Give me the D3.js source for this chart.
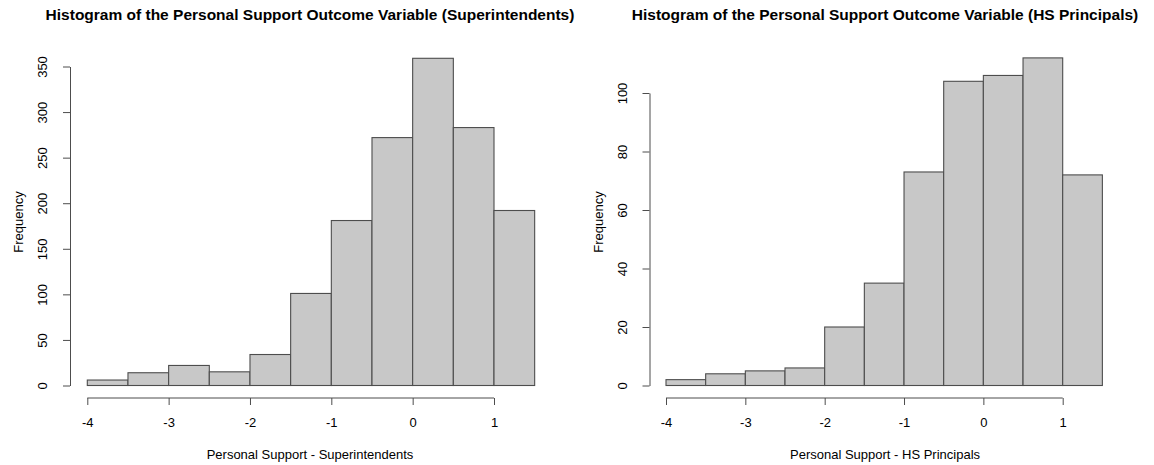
<!DOCTYPE html>
<html>
<head>
<meta charset="utf-8">
<script src="https://cdn.jsdelivr.net/npm/d3@7"></script>
<style>
  body { margin: 0; background: #fff; }
  svg text { font-family: "Liberation Sans", Arial, Helvetica, sans-serif; fill: #000; }
</style>
</head>
<body>
<div id="chart"></div>
<script>
// histogram breaks (same for both panels)
var breaks = [-4, -3.5, -3, -2.5, -2, -1.5, -1, -0.5, 0, 0.5, 1, 1.5];
var xTicks = [-4, -3, -2, -1, 0, 1];

// counts per bin
var supCounts = [6, 14, 22, 15, 34, 101, 181, 272, 359, 283, 192];
var hsCounts = [2, 4, 5, 6, 20, 35, 73, 104, 106, 112, 72];

var supYTicks = [0, 50, 100, 150, 200, 250, 300, 350];
var hsYTicks = [0, 20, 40, 60, 80, 100];

var svgWidth = 1154;
var svgHeight = 465;

var svg = d3.select("#chart")
  .append("svg")
  .attr("width", svgWidth)
  .attr("height", svgHeight);

var panels = [
  {
    title: "Histogram of the Personal Support Outcome Variable (Superintendents)",
    xLabel: "Personal Support - Superintendents",
    counts: supCounts,
    yTicks: supYTicks,
    xRange: [87.3, 494],
    yRange: [385.5, 66.5],
    axisX: 70,
    center: 310
  },
  {
    title: "Histogram of the Personal Support Outcome Variable (HS Principals)",
    xLabel: "Personal Support - HS Principals",
    counts: hsCounts,
    yTicks: hsYTicks,
    xRange: [666, 1062.7],
    yRange: [385.5, 93],
    axisX: 649.5,
    center: 885
  }
];

var axisY = 398;
var lineColor = "#4d4d4d";

panels.forEach(function(p) {
  var g = svg.append("g");

  var x = d3.scaleLinear().domain([-4, 1]).range(p.xRange);
  var y = d3.scaleLinear()
    .domain([0, d3.max(p.yTicks)])
    .range(p.yRange);

  // bars
  var bins = p.counts.map(function(c, i) {
    return { x0: breaks[i], x1: breaks[i + 1], count: c };
  });

  g.selectAll("rect.bar")
    .data(bins)
    .enter()
    .append("rect")
    .attr("class", "bar")
    .attr("x", d => x(d.x0))
    .attr("y", d => y(d.count))
    .attr("width", d => x(d.x1) - x(d.x0))
    .attr("height", d => y(0) - y(d.count))
    .attr("fill", "#c8c8c8")
    .attr("stroke", lineColor)
    .attr("stroke-width", 1.1);

  // x axis (line only spans first to last tick, like base R)
  var bottomAxis = d3.axisBottom(x)
    .tickValues(xTicks)
    .tickFormat(d3.format("d"))
    .tickSize(7)
    .tickSizeOuter(0)
    .tickPadding(13);

  var xAxis = g.append("g")
    .attr("transform", `translate(0, ${axisY})`)
    .call(bottomAxis);
  xAxis.select(".domain").remove();
  xAxis.append("line")
    .attr("x1", x(xTicks[0]))
    .attr("x2", x(xTicks[xTicks.length - 1]))
    .attr("stroke", lineColor);
  xAxis.selectAll(".tick line").attr("stroke", lineColor);
  xAxis.selectAll(".tick text")
    .style("font-size", "13px")
    .text(d => d < 0 ? "-" + Math.abs(d) : d);

  // y axis with rotated labels
  var leftAxis = d3.axisLeft(y)
    .tickValues(p.yTicks)
    .tickSize(7)
    .tickSizeOuter(0);

  var yAxis = g.append("g")
    .attr("transform", `translate(${p.axisX}, 0)`)
    .call(leftAxis);
  yAxis.select(".domain").attr("stroke", lineColor);
  yAxis.selectAll(".tick line").attr("stroke", lineColor);
  yAxis.selectAll(".tick text")
    .style("font-size", "13px")
    .attr("text-anchor", "middle")
    .attr("transform", "rotate(-90)")
    .attr("x", 0)
    .attr("y", -23)
    .attr("dy", 0);

  // title
  svg.append("text")
    .attr("x", p.center)
    .attr("y", 20)
    .attr("text-anchor", "middle")
    .style("font-size", "15.5px")
    .style("font-weight", "bold")
    .text(p.title);

  // x axis title
  svg.append("text")
    .attr("x", p.center)
    .attr("y", 459)
    .attr("text-anchor", "middle")
    .style("font-size", "13px")
    .text(p.xLabel);

  // y axis title
  svg.append("text")
    .attr("transform", `translate(${p.axisX - 47}, 222) rotate(-90)`)
    .attr("text-anchor", "middle")
    .style("font-size", "13px")
    .text("Frequency");
});
</script>
</body>
</html>
